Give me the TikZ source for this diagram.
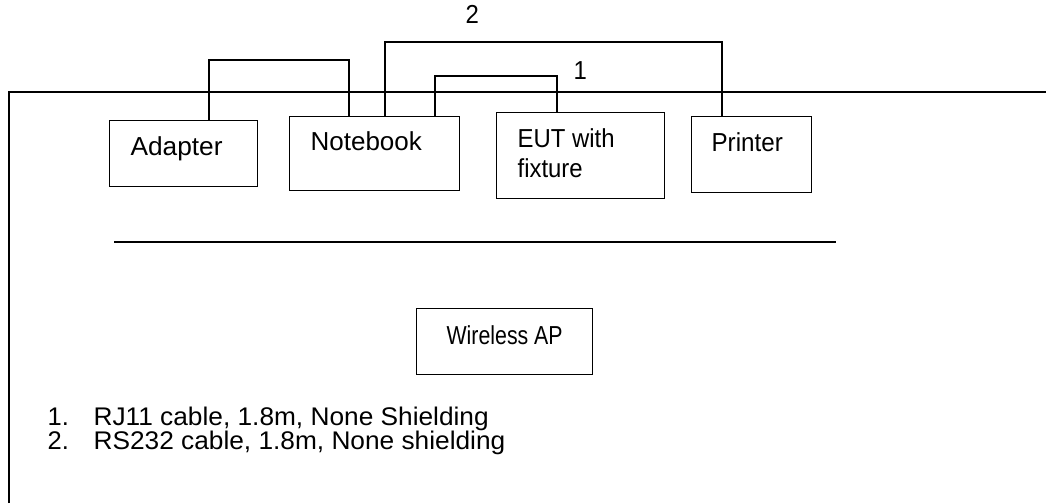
\documentclass[tikz,border=0pt]{standalone}
\usepackage{graphicx}
\usepackage{fontspec}
\setmainfont{Liberation Sans}
\newcommand{\fsz}[1]{\fontsize{#1}{30}\selectfont}
\newcommand{\hsq}[2]{\scalebox{#1}[1]{#2}}
\newcommand{\legendfont}{\fontsize{25.5}{24}\selectfont\lineskiplimit-100pt\relax}
\begin{document}
\begin{tikzpicture}[x=1pt,y=-1pt,line width=1.2pt,
  box/.style={draw,rectangle,inner sep=0pt,anchor=north west},
  lbl/.style={anchor=base west,inner sep=0pt,font=\fsz{26}},
  cable/.style={draw}]
\useasboundingbox (0,0) rectangle (1046,503);
% outer enclosure (open on the right and bottom)
\coordinate (encBL) at (9,503);
\coordinate (encTL) at (9,92);
\coordinate (encTR) at (1046,92);
\draw (encBL) -- (encTL) -- (encTR);
% boxes
\node[box,minimum width=148pt,minimum height=66pt] (adapter) at (109,120) {};
\node[box,minimum width=170pt,minimum height=74pt] (notebook) at (289,116) {};
\node[box,minimum width=168pt,minimum height=86pt] (eut) at (496,112) {};
\node[box,minimum width=120pt,minimum height=76pt] (printer) at (691,116) {};
\node[box,minimum width=176pt,minimum height=66pt] (ap) at (416,308) {};
% texts
\node[lbl] (tadapter) at (130,155) {\hsq{1.01}{Adapter}};
\node[lbl] (tnotebook) at (310,150) {Notebook};
\node[lbl,align=left] (teut) at (517,177) {\hsq{0.92}{EUT with}\\\hsq{0.92}{fixture}};
\node[lbl] (tprinter) at (711,151) {\hsq{0.93}{Printer}};
\node[lbl] (tap) at (446,344) {\hsq{0.82}{Wireless AP}};
% cables
\draw[cable] ([xshift=100pt]adapter.north west) |- ([xshift=60pt,yshift=56pt]notebook.north west) -- ([xshift=60pt]notebook.north west);
\draw[cable] ([xshift=96pt]notebook.north west) |- ([xshift=31pt,yshift=74pt]printer.north west) -- ([xshift=31pt]printer.north west);
\draw[cable] ([xshift=146pt]notebook.north west) |- ([xshift=61pt,yshift=36pt]eut.north west) -- ([xshift=61pt]eut.north west);
\node[lbl] (n2) at (465,24) {\hsq{0.92}{2}};
\node[lbl] (n1) at (573,79) {\hsq{0.92}{1}};
% separator line
\coordinate (sepL) at (114,242);
\coordinate (sepR) at (836,242);
\draw (sepL) -- (sepR);
% legend
\node[lbl,align=left,font=\legendfont] (legend) at (47,449)
  {\makebox[46pt][l]{1.}\hsq{1.03}{RJ11 cable, 1.8m, None Shielding}\\
   \makebox[46pt][l]{2.}\hsq{1.03}{RS232 cable, 1.8m, None shielding}};
\end{tikzpicture}
\end{document}
